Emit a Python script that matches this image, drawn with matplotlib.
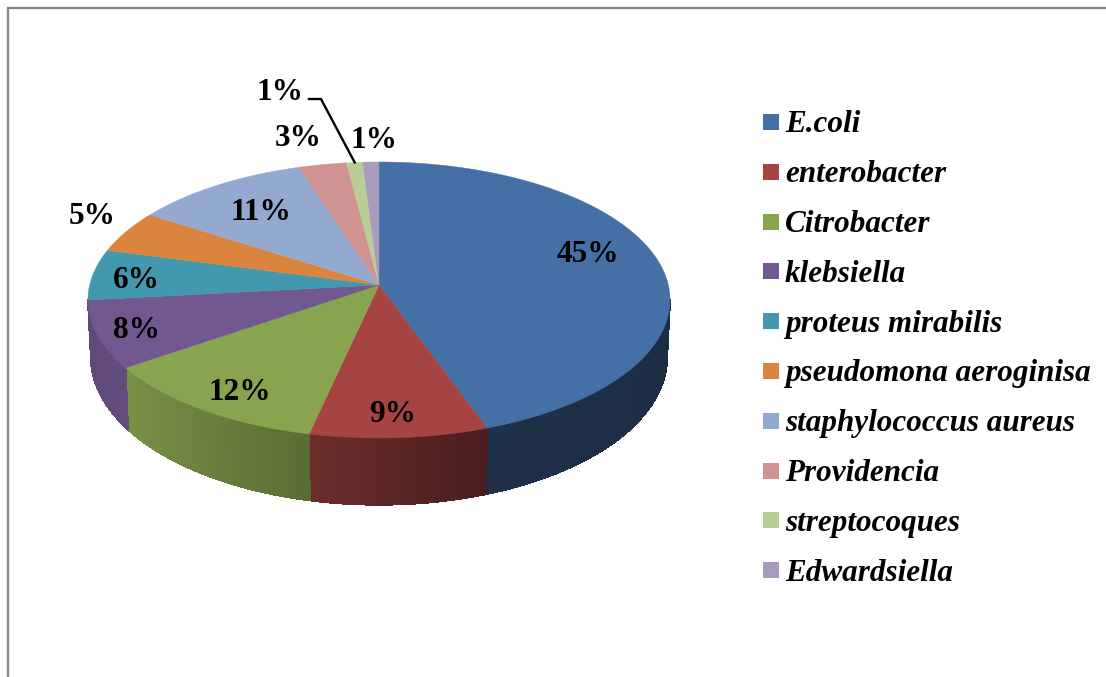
import numpy as np
import matplotlib
matplotlib.use("Agg")
import matplotlib.pyplot as plt
from matplotlib.patches import Polygon, Rectangle

species = [
    "E.coli",
    "enterobacter",
    "Citrobacter",
    "klebsiella",
    "proteus mirabilis",
    "pseudomona aeroginisa",
    "staphylococcus aureus",
    "Providencia",
    "streptocoques",
    "Edwardsiella",
]
percent = [45, 9, 12, 8, 6, 5, 11, 3, 1, 1]
colors = [
    "#4470A5", "#A54443", "#88A44E", "#71588F", "#4298AF",
    "#DB843D", "#93A9CF", "#D19392", "#B9CD96", "#A99BBD",
]

# label centres, in pixels
label_pos = [
    (588, 255), (393, 414), (240, 392), (136, 330), (136, 281),
    (92, 217), (261, 212), (298, 139), (280, 93), (374, 141),
]

# pie geometry, in pixels: the disc is seen in perspective, so the far
# half is squeezed and its centre sits above the middle of the outline
apex_x, apex_y = 379, 285
radius_x, radius_y = 289.3, 136.4
persp = 0.1087
depth = 56
base_scale_x = 0.99
base_scale_y = 1.07

# darkening of the side wall across the width of the pie
shade_x = [88, 124, 308, 487, 670]
shade_k = [0.84, 0.88, 0.66, 0.44, 0.41]

plt.rcParams["font.family"] = ["Liberation Serif", "DejaVu Serif"]

fig = plt.figure(figsize=(11.06, 6.77), dpi=100)
ax = fig.add_axes([0, 0, 1, 1])
ax.set_xlim(0, 1106)
ax.set_ylim(677, 0)
ax.set_axis_off()

# frame, only the top and left edges are visible
ax.plot([8, 8, 1106], [677, 8, 8], color="#868686", lw=1.7, solid_joinstyle="miter")


def top_rim(t):
    w = 1 + persp * np.cos(t)
    return apex_x + radius_x * np.sin(t) / w, apex_y - radius_y * np.cos(t) / w


def low_rim(t):
    w = 1 + persp * np.cos(t)
    return (apex_x + base_scale_x * radius_x * np.sin(t) / w,
            apex_y + depth - base_scale_y * radius_y * np.cos(t) / w)


edges = np.cumsum([0] + percent) / sum(percent) * 2 * np.pi

# the wall shows between the two widest points of the outline
wall_from = np.arccos(-persp)
wall_to = 2 * np.pi - wall_from

# side walls first, cut in thin strips so the shading runs smoothly
for i in range(len(percent)):
    a = max(edges[i], wall_from)
    b = min(edges[i + 1], wall_to)
    if b <= a:
        continue
    n = max(2, int((b - a) * 120))
    ts = np.linspace(a, b, n + 1)
    base = np.array(matplotlib.colors.to_rgb(colors[i]))
    for t0, t1 in zip(ts[:-1], ts[1:]):
        x0, y0 = top_rim(t0)
        x1, y1 = top_rim(t1)
        x3, y3 = low_rim(t0)
        x2, y2 = low_rim(t1)
        k = np.interp((x0 + x1) / 2, shade_x, shade_k)
        ax.add_patch(Polygon([(x0, y0), (x1, y1), (x2, y2), (x3, y3)], closed=True,
                             facecolor=base * k, edgecolor=base * k, lw=0.6, antialiased=False))

# top face of the pie
for i in range(len(percent)):
    ts = np.linspace(edges[i], edges[i + 1], 120)
    xs, ys = top_rim(ts)
    pts = [(apex_x, apex_y)] + list(zip(xs, ys))
    ax.add_patch(Polygon(pts, closed=True, facecolor=colors[i], edgecolor=colors[i], lw=0.3))

# data labels
for p, (x, y) in zip(percent, label_pos):
    ax.text(x, y, f"{p}%", ha="center", va="center", fontsize=22.5, fontweight="bold", color="black")

# leader line for the streptocoques label
mid = (edges[8] + edges[9]) / 2
lx, ly = top_rim(mid)
ax.plot([309, 321, lx], [99, 99, ly], color="black", lw=1.7)

# legend
for i, name in enumerate(species):
    y = 122 + i * 49.8
    ax.add_patch(Rectangle((763, y - 8), 16, 16, facecolor=colors[i], edgecolor="none"))
    ax.text(785, y - 0.5, name, ha="left", va="center_baseline", fontsize=22.4,
            fontweight="bold", fontstyle="italic", color="black")

fig.savefig("out.png", dpi=100)
